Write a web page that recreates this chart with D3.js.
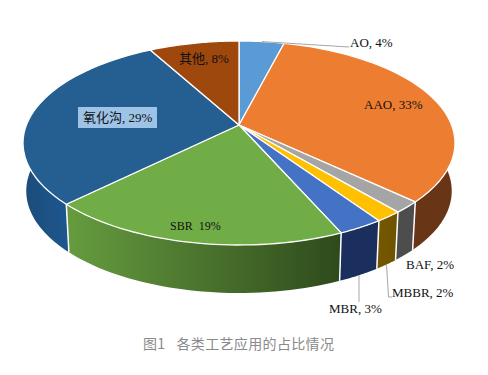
<!DOCTYPE html>
<html>
<head>
<meta charset="utf-8">
<script src="https://cdn.jsdelivr.net/npm/d3@7"></script>
<style>
html, body { margin: 0; padding: 0; background: #fff; }
text { font-family: "Liberation Serif", "Noto Sans CJK SC", serif; font-size: 13px; fill: #111; }
.caption { font-family: "Noto Sans CJK SC", sans-serif; font-size: 14px; fill: #8a8a8a; letter-spacing: 0.35px; word-spacing: 2px; }
</style>
</head>
<body>
<div id="chart"></div>
<script>
// Chart data
const categories = ['AO', 'AAO', 'BAF', 'MBBR', 'MBR', 'SBR', '氧化沟', '其他'];
const shares = [4, 33, 1.8, 1.7, 2.9, 19.2, 29.4, 8];
const labels = ['AO, 4%', 'AAO, 33%', 'BAF, 2%', 'MBBR, 2%', 'MBR, 3%', 'SBR  19%', '氧化沟, 29%', '其他, 8%'];
const captionText = '图1  各类工艺应用的占比情况';

// Styles and label layout
const topColors = ['#5b9bd5', '#ed7d31', '#a5a5a5', '#ffc000', '#4472c4', '#70ad47', '#255e91', '#9e480e'];
const wallColors = [
    ['#5b9bd5', '#5b9bd5'], ['#693517', '#693517'], ['#4d4d4d', '#4d4d4d'], ['#6e5300', '#755800'],
    ['#1a2f5e', '#1a2f5e'], ['#2e4a1c', '#669c3f'], ['#1d578e', '#1c4c7a'], ['#9e480e', '#9e480e']
];
const labelPos = [[350, 47], [364, 109], [406, 269], [392, 297], [329, 313], [170, 230], [83, 122], [179, 63]];
const labelSizes = [13, 13, 13, 13, 13, 12, 13, 13];

const width = 488, height = 375;
const cx = 239, cy = 125;
const radius = 212.6, persp = 0.1765, tilt = -76.76;
const depth = 48, shrink = 0.985;

const svg = d3.select('#chart').append('svg')
    .attr('width', width).attr('height', height)
    .style('display', 'block');
const defs = svg.append('defs');

// Project an angle on the pie rim (clockwise from 12 o'clock) to the screen
function rim(angle) {
    const u = Math.sin(angle), v = Math.cos(angle);
    const den = 1 + persp * v;
    return [cx + radius * u / den, (tilt * v + cy) / den];
}
function rimBottom(angle) {
    const p = rim(angle);
    return [cx + (p[0] - cx) * shrink, p[1] + depth];
}

const arcs = d3.pie().sort(null).value(d => d)(shares);
const line = d3.line();
const steps = a => d3.range(0, 41).map(i => a.startAngle + (a.endAngle - a.startAngle) * i / 40);

// Side walls, only the part that faces the viewer
const wall = svg.append('g');
arcs.forEach((a, i) => {
    const from = Math.max(a.startAngle, Math.PI * 0.42);
    const to = Math.min(a.endAngle, Math.PI * 1.58);
    if (to <= from) return;
    const seg = d3.range(0, 41).map(k => from + (to - from) * k / 40);
    const pts = seg.map(t => rim(t)).concat(seg.slice().reverse().map(t => rimBottom(t)));
    const xs = pts.map(p => p[0]);
    const id = 'wall' + i;
    const grad = defs.append('linearGradient').attr('id', id)
        .attr('gradientUnits', 'userSpaceOnUse')
        .attr('x1', d3.min(xs)).attr('x2', d3.max(xs)).attr('y1', 0).attr('y2', 0);
    grad.append('stop').attr('offset', 0).attr('stop-color', wallColors[i][1]);
    grad.append('stop').attr('offset', 1).attr('stop-color', wallColors[i][0]);
    wall.append('path').attr('d', line(pts) + 'Z').attr('fill', `url(#${id})`);
});
// White seams between the visible wall pieces
arcs.slice(1, 6).forEach(a => {
    const t = a.endAngle;
    wall.append('path').attr('d', line([rim(t), rimBottom(t)]))
        .attr('stroke', '#fff').attr('stroke-width', 1.5).attr('fill', 'none');
});

// Top faces
svg.append('g').selectAll('path').data(arcs).enter().append('path')
    .attr('d', a => line([[cx, cy]].concat(steps(a).map(t => rim(t)))) + 'Z')
    .attr('fill', (a, i) => topColors[i])
    .attr('stroke', '#fff').attr('stroke-width', 1.3).attr('stroke-linejoin', 'round');

// Leader lines
const midAngle = a => (a.startAngle + a.endAngle) / 2;
const leader = svg.append('g').attr('fill', 'none').attr('stroke', '#a6a6a6').attr('stroke-width', 1);
leader.append('path').attr('d', line([rim(midAngle(arcs[0])), [labelPos[0][0] - 1, labelPos[0][1]]]));
const mbbrFoot = rimBottom(midAngle(arcs[3]));
leader.append('path').attr('d', line([mbbrFoot, [mbbrFoot[0] + 2, labelPos[3][1]], [labelPos[3][0], labelPos[3][1]]]));
const mbrFoot = rimBottom(midAngle(arcs[4]));
leader.append('path').attr('d', line([mbrFoot, [mbrFoot[0], labelPos[4][1] - 11]]));

// Label background behind the ditch label
const ditch = labelPos[6];
svg.append('rect').attr('x', ditch[0] - 5).attr('y', ditch[1] - 15).attr('width', 79).attr('height', 21)
    .attr('fill', '#9dc3e6');

svg.append('g').selectAll('text').data(labels).enter().append('text')
    .attr('x', (d, i) => labelPos[i][0])
    .attr('y', (d, i) => labelPos[i][1])
    .style('font-size', (d, i) => labelSizes[i] + 'px')
    .style('white-space', 'pre')
    .text(d => d);

svg.append('text').attr('class', 'caption')
    .attr('x', 143).attr('y', 349)
    .style('white-space', 'pre')
    .text(captionText);
</script>
</body>
</html>
